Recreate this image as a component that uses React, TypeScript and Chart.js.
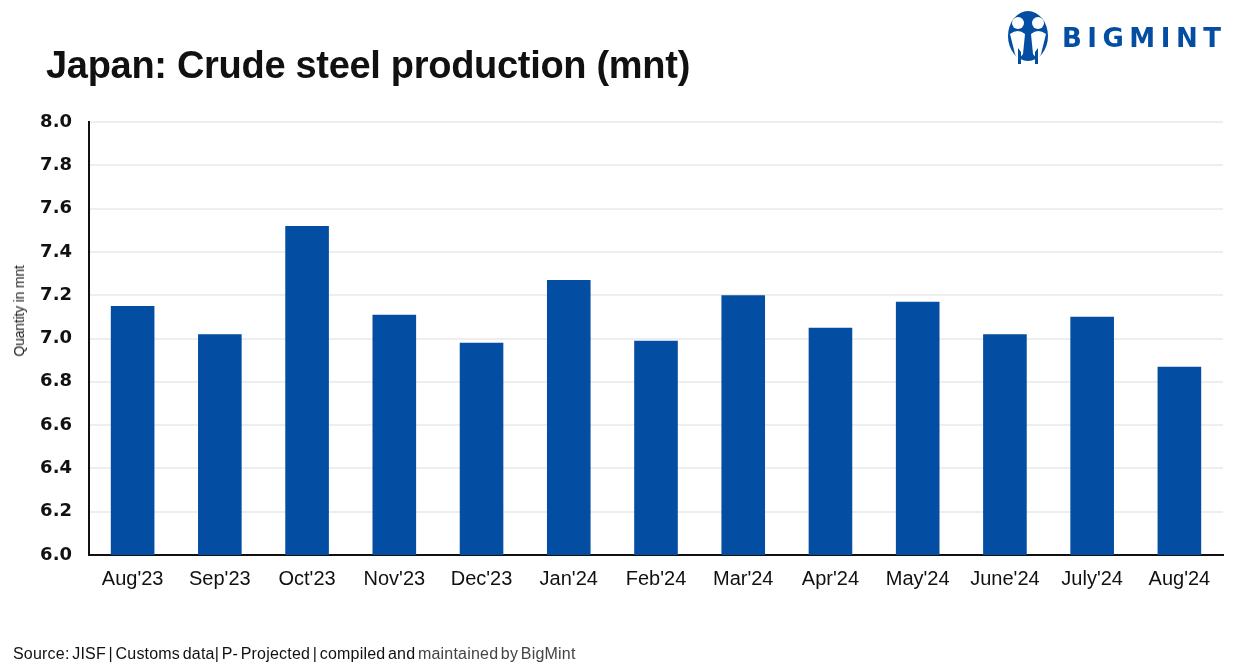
import React, { useEffect, useRef } from "react";
import { Chart, registerables } from "chart.js";

Chart.register(...registerables);

const categories = ["Aug'23", "Sep'23", "Oct'23", "Nov'23", "Dec'23", "Jan'24", "Feb'24", "Mar'24", "Apr'24", "May'24", "June'24", "July'24", "Aug'24"];
const production = [7.15, 7.02, 7.52, 7.11, 6.98, 7.27, 6.99, 7.2, 7.05, 7.17, 7.02, 7.1, 6.87];
const yMin = 6.0;
const yMax = 8.0;
const yStep = 0.2;

const titleText = "Japan: Crude steel production (mnt)";
const yAxisTitle = "Quantity in mnt";
const sourceMain = "Source: JISF | Customs data| P- Projected | compiled and ";
const sourceTail = "maintained by BigMint";

const BLUE = "#034EA2";

export default function App() {
  const canvasRef = useRef<HTMLCanvasElement | null>(null);

  useEffect(() => {
    if (!canvasRef.current) return;
    const chart = new Chart(canvasRef.current, {
      type: "bar",
      data: {
        labels: categories,
        datasets: [
          {
            data: production,
            backgroundColor: BLUE,
            borderWidth: 0,
            barPercentage: 0.5,
            categoryPercentage: 1.0,
          },
        ],
      },
      options: {
        animation: false,
        responsive: false,
        maintainAspectRatio: false,
        devicePixelRatio: 1,
        layout: { padding: { left: 0, top: 122, right: 20, bottom: 0 } },
        plugins: {
          legend: { display: false },
          tooltip: { enabled: false },
          title: { display: false },
        },
        scales: {
          x: {
            grid: { display: false, drawTicks: false },
            border: { display: true, color: "#111111", width: 2 },
            ticks: {
              color: "#111111",
              padding: 12,
              maxRotation: 0,
              autoSkip: false,
              font: { family: "'Liberation Sans', Arial, sans-serif", size: 20 },
            },
            afterFit: (scale: any) => {
              scale.height = 115;
            },
          },
          y: {
            min: yMin,
            max: yMax,
            grid: { color: "#eeeeee", lineWidth: 2, drawTicks: false },
            border: { display: true, color: "#111111", width: 2 },
            ticks: {
              stepSize: yStep,
              padding: 17,
              color: "#111111",
              font: { family: "'DejaVu Sans', sans-serif", size: 18, weight: "bold" },
              callback: (v: any) => Number(v).toFixed(1),
            },
            afterFit: (scale: any) => {
              scale.width = 89;
            },
          },
        },
      },
    });
    return () => chart.destroy();
  }, []);

  return (
    <div style={{ position: "fixed", left: 0, top: 0, width: 1243, height: 670, background: "#fff", overflow: "hidden" }}>
      <canvas ref={canvasRef} width={1243} height={670} style={{ position: "absolute", left: 0, top: 0, width: 1243, height: 670 }} />
      <div
        style={{
          position: "absolute",
          left: 46,
          top: 45,
          fontFamily: "'Liberation Sans', Arial, sans-serif",
          fontWeight: "bold",
          fontSize: 38,
          lineHeight: "40px",
          color: "#111",
          letterSpacing: "-0.3px",
          whiteSpace: "nowrap",
        }}
      >
        {titleText}
      </div>
      <div
        style={{
          position: "absolute",
          left: 19,
          top: 311,
          transform: "translate(-50%, -50%) rotate(-90deg)",
          fontFamily: "'Liberation Sans', Arial, sans-serif",
          fontSize: 14,
          color: "#222",
          whiteSpace: "nowrap",
          letterSpacing: "-0.2px",
        }}
      >
        {yAxisTitle}
      </div>
      <div
        style={{
          position: "absolute",
          left: 13,
          top: 645,
          fontFamily: "'Liberation Sans', Arial, sans-serif",
          fontSize: 16,
          lineHeight: "18px",
          color: "#111",
          whiteSpace: "nowrap",
          letterSpacing: "0.2px",
          wordSpacing: "-2px",
        }}
      >
        {sourceMain}
        <span style={{ color: "#444" }}>{sourceTail}</span>
      </div>
      <svg style={{ position: "absolute", left: 1004, top: 8 }} width={48} height={58} viewBox="0 0 48 58">
        <ellipse cx={24} cy={28} rx={20} ry={25} fill={BLUE} />
        <circle cx={14} cy={15} r={6} fill="#fff" />
        <circle cx={34} cy={15} r={6} fill="#fff" />
        <path d="M6 26 Q14 20 21 26 L19 46 L14 52 L11 46 Z" fill="#fff" />
        <path d="M42 26 Q34 20 27 26 L29 46 L34 52 L37 46 Z" fill="#fff" />
        <path d="M14 40 L14 56 L17 56 L17 44 Z" fill={BLUE} />
        <path d="M34 40 L34 56 L31 56 L31 44 Z" fill={BLUE} />
      </svg>
      <div
        style={{
          position: "absolute",
          left: 1062,
          top: 22,
          fontFamily: "'DejaVu Sans', sans-serif",
          fontWeight: "bold",
          fontSize: 26,
          lineHeight: "32px",
          letterSpacing: "5.5px",
          color: BLUE,
          whiteSpace: "nowrap",
        }}
      >
        BIGMINT
      </div>
    </div>
  );
}
